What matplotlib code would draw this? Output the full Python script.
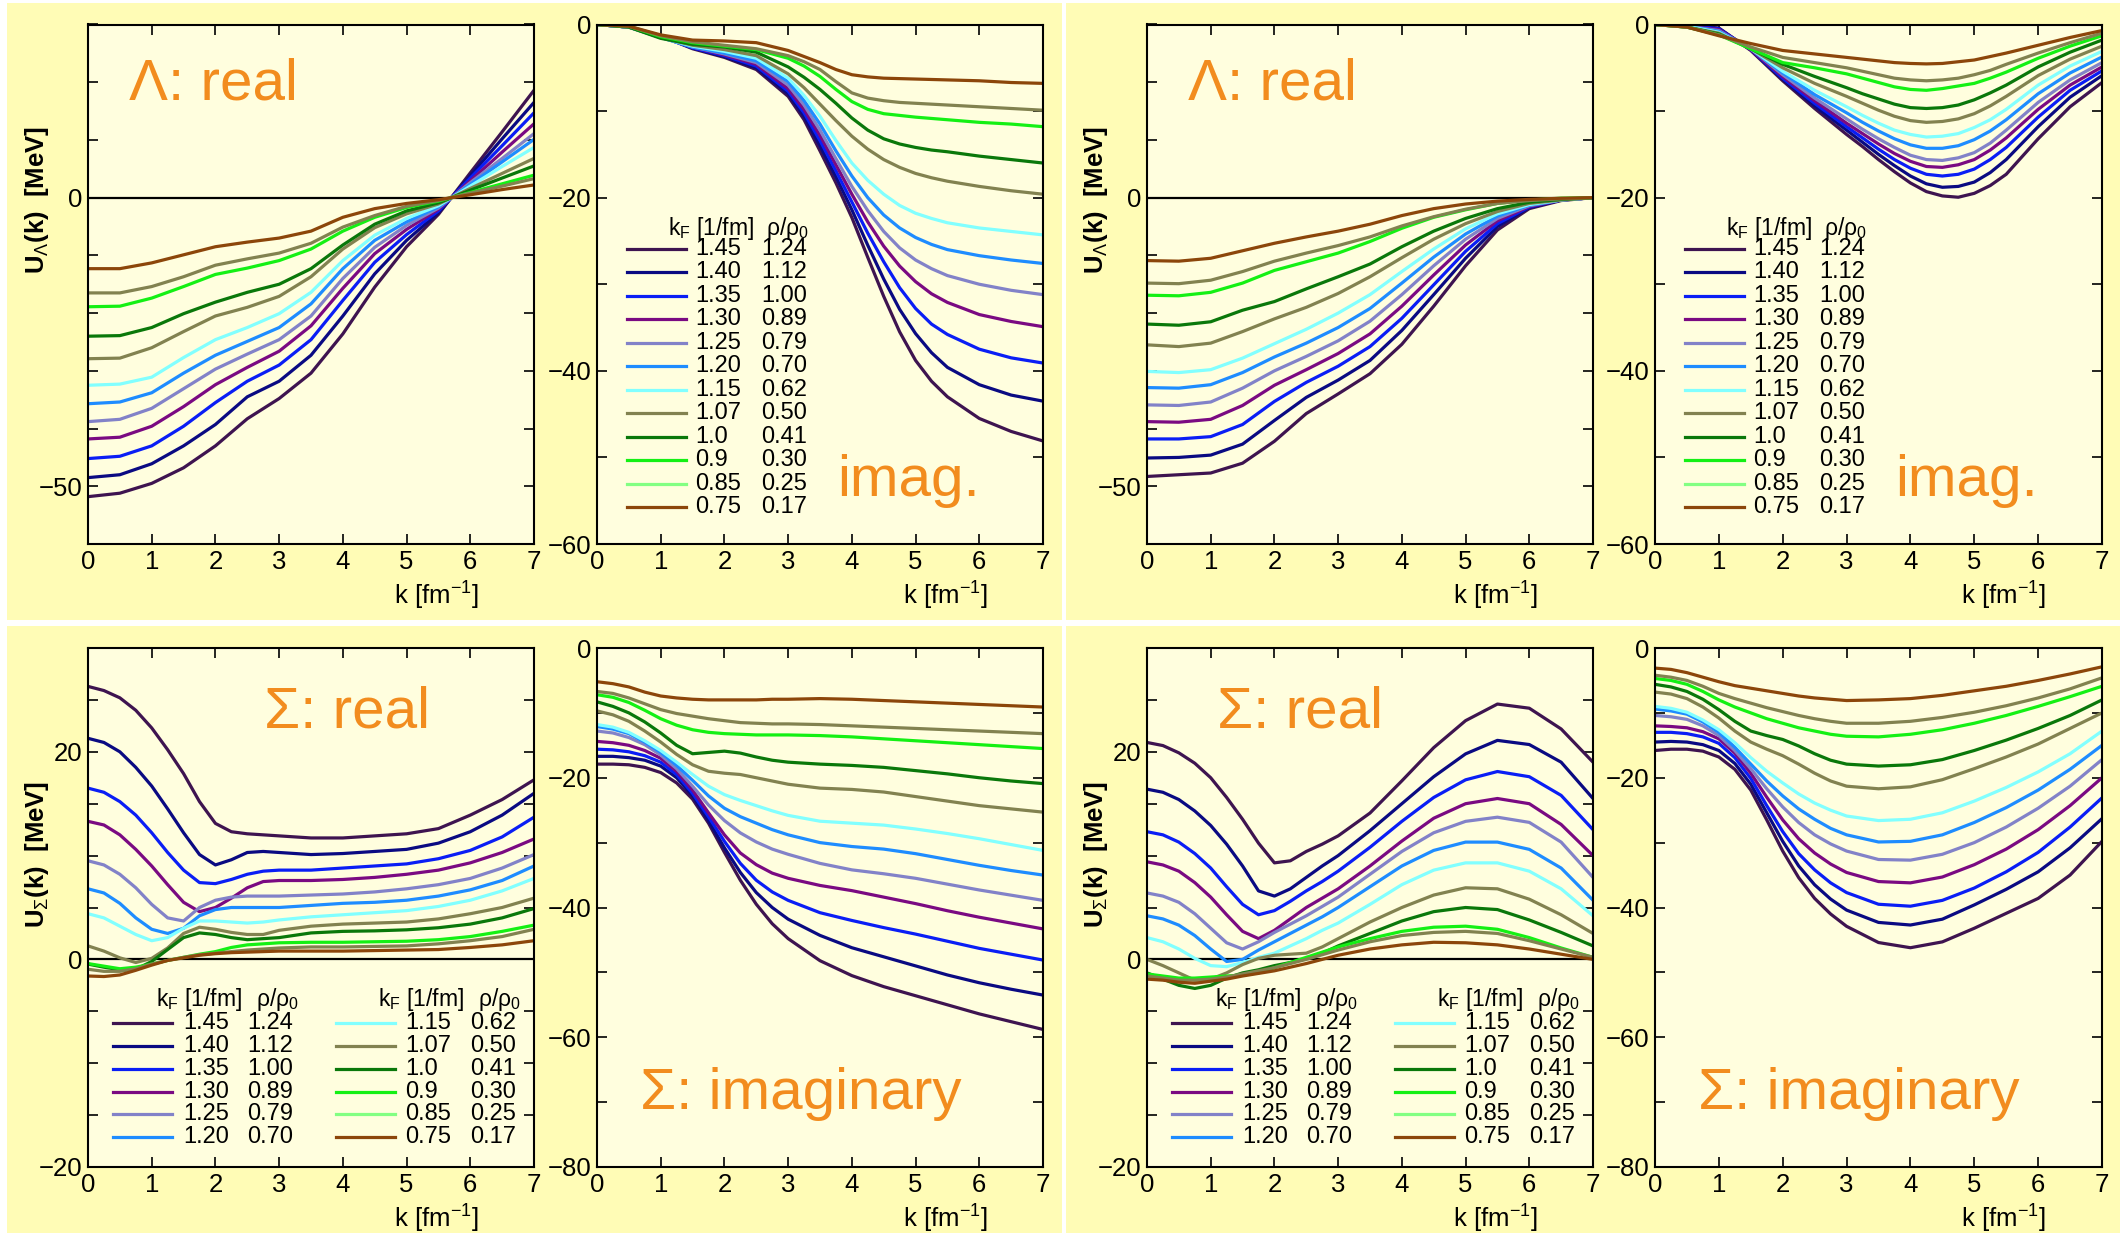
import matplotlib
matplotlib.use('Agg')
import matplotlib.pyplot as plt
from matplotlib.patches import Rectangle
from matplotlib.ticker import MultipleLocator, FuncFormatter

plt.rcParams['font.family'] = ['Liberation Sans', 'DejaVu Sans']
plt.rcParams['mathtext.fontset'] = 'custom'
plt.rcParams['mathtext.rm'] = 'Liberation Sans'
plt.rcParams['mathtext.it'] = 'Liberation Sans:italic'
plt.rcParams['mathtext.bf'] = 'Liberation Sans:bold'
plt.rcParams['axes.unicode_minus'] = True

# ---------------- data ----------------
k_lam = [0, 0.5, 1, 1.5, 2, 2.5, 3, 3.5, 4, 4.5, 5, 5.5, 6, 6.5, 7]
k_lim = [0, 0.5, 1, 1.5, 2, 2.5, 3, 3.25, 3.5, 3.75, 4, 4.25, 4.5, 4.75, 5, 5.25, 5.5, 6, 6.5, 7]
k_sig = [0, 0.25, 0.5, 0.75, 1, 1.25, 1.5, 1.75, 2, 2.25, 2.5, 2.75, 3, 3.5, 4, 4.5, 5, 5.5, 6, 6.5, 7]
kF_labels = ['1.45', '1.40', '1.35', '1.30', '1.25', '1.20', '1.15', '1.07', '1.0', '0.9', '0.85', '0.75']
rho_labels = ['1.24', '1.12', '1.00', '0.89', '0.79', '0.70', '0.62', '0.50', '0.41', '0.30', '0.25', '0.17']
line_colors = ['#3E1450', '#0A0A82', '#0A1EF5', '#7A0A82', '#8282C8', '#1E8CFF', '#82FFFF',
               '#828250', '#0A780A', '#14F014', '#828250', '#8C460A']
legend_colors = ['#3E1450', '#0A0A82', '#0A1EF5', '#7A0A82', '#8282C8', '#1E8CFF', '#82FFFF',
                 '#828250', '#0A780A', '#14F014', '#82FF82', '#8C460A']

# Lambda, left set (top-left quadrant)
lam_re_a = [
    [-51.8, -51.2, -49.5, -46.8, -43.0, -38.3, -34.8, -30.4, -23.6, -15.5, -8.5, -2.9, 4.3, 11.4, 18.6],
    [-48.5, -48.0, -46.1, -43.0, -39.3, -34.5, -31.8, -27.3, -20.5, -13.2, -7.4, -2.6, 3.8, 10.2, 16.5],
    [-45.2, -44.8, -43.0, -39.6, -35.5, -31.8, -29.0, -24.6, -17.8, -11.2, -6.4, -2.3, 3.4, 9.0, 14.7],
    [-41.8, -41.5, -39.6, -36.2, -32.4, -29.4, -26.6, -22.2, -15.7, -9.7, -5.5, -2.0, 2.9, 7.9, 12.8],
    [-38.8, -38.4, -36.5, -33.1, -29.7, -27.1, -24.6, -20.5, -14.0, -8.6, -4.8, -1.8, 2.6, 6.8, 11.1],
    [-35.7, -35.4, -33.8, -30.4, -27.3, -24.9, -22.5, -18.4, -12.3, -7.4, -4.2, -1.6, 2.3, 6.2, 10.1],
    [-32.5, -32.3, -31.1, -27.7, -24.6, -22.5, -20.1, -16.4, -10.9, -6.5, -3.6, -1.4, 2.0, 5.4, 8.7],
    [-27.9, -27.8, -26.0, -23.2, -20.5, -19.0, -17.1, -13.7, -8.9, -5.2, -2.8, -1.1, 1.6, 4.2, 6.8],
    [-24.0, -23.9, -22.5, -20.1, -18.1, -16.4, -15.0, -12.3, -8.2, -4.6, -2.3, -0.9, 1.3, 3.4, 5.5],
    [-18.9, -18.8, -17.4, -15.4, -13.3, -12.2, -10.9, -8.9, -5.8, -3.4, -1.7, -0.6, 0.9, 2.4, 3.9],
    [-16.5, -16.5, -15.4, -13.7, -11.7, -10.6, -9.6, -7.9, -5.1, -3.1, -1.5, -0.5, 0.8, 2.0, 3.3],
    [-12.3, -12.3, -11.3, -9.9, -8.5, -7.7, -7.0, -5.8, -3.4, -1.9, -1.0, -0.35, 0.5, 1.4, 2.2],
]
# on k_lim
lam_im_a = [
    [0, -0.3, -1.3, -2.8, -3.8, -5.2, -8.3, -11.0, -14.6, -18.3, -22.3, -26.9, -31.4, -35.5, -38.8, -41.2, -43.0, -45.5, -47.0, -48.1],
    [0, -0.3, -1.3, -2.7, -3.7, -5.0, -8.0, -10.6, -14.0, -17.6, -21.4, -25.5, -29.4, -32.9, -35.7, -37.9, -39.6, -41.6, -42.8, -43.5],
    [0, -0.3, -1.4, -2.7, -3.6, -4.8, -7.7, -10.2, -13.4, -16.9, -20.5, -24.1, -27.4, -30.4, -32.8, -34.6, -35.8, -37.5, -38.5, -39.1],
    [0, -0.3, -1.4, -2.6, -3.5, -4.6, -7.4, -9.8, -12.8, -16.2, -19.6, -22.8, -25.6, -27.9, -29.7, -31.1, -32.1, -33.5, -34.3, -34.9],
    [0, -0.3, -1.5, -2.6, -3.4, -4.4, -7.0, -9.3, -12.2, -15.5, -18.7, -21.5, -23.9, -25.8, -27.2, -28.2, -29.0, -30.0, -30.7, -31.2],
    [0, -0.3, -1.5, -2.6, -3.3, -4.2, -6.6, -8.8, -11.5, -14.6, -17.5, -20.0, -22.0, -23.5, -24.6, -25.4, -26.0, -26.7, -27.2, -27.6],
    [0, -0.3, -1.5, -2.5, -3.1, -3.9, -6.2, -8.2, -10.6, -13.4, -16.0, -18.0, -19.6, -20.9, -21.8, -22.4, -22.9, -23.5, -23.9, -24.3],
    [0, -0.3, -1.5, -2.4, -2.9, -3.6, -5.7, -7.3, -9.2, -11.1, -12.9, -14.4, -15.6, -16.5, -17.2, -17.7, -18.1, -18.7, -19.2, -19.6],
    [0, -0.3, -1.6, -2.3, -2.6, -3.2, -4.9, -6.1, -7.5, -9.1, -10.8, -12.2, -13.2, -13.8, -14.2, -14.5, -14.7, -15.2, -15.6, -16.0],
    [0, -0.2, -1.4, -2.1, -2.5, -2.9, -3.9, -4.8, -6.0, -7.5, -8.9, -9.8, -10.3, -10.5, -10.7, -10.85, -11.0, -11.3, -11.5, -11.8],
    [0, -0.2, -1.3, -2.0, -2.4, -2.8, -3.6, -4.3, -5.2, -6.6, -7.9, -8.5, -8.8, -9.0, -9.1, -9.2, -9.3, -9.5, -9.7, -9.9],
    [0, -0.2, -1.2, -1.8, -1.9, -2.1, -3.0, -3.7, -4.4, -5.2, -5.8, -6.05, -6.2, -6.25, -6.3, -6.35, -6.4, -6.5, -6.7, -6.8],
]

# Lambda, right set (top-right quadrant)
lam_re_b = [
    [-48.3, -48.0, -47.7, -46.0, -42.2, -37.4, -34.0, -30.5, -25.4, -18.8, -11.8, -5.6, -1.9, -0.5, 0],
    [-45.1, -45.0, -44.6, -42.7, -38.6, -34.6, -31.6, -28.2, -23.0, -16.8, -10.5, -5.0, -1.7, -0.4, 0],
    [-41.8, -41.8, -41.4, -39.3, -35.3, -32.0, -29.2, -25.8, -20.9, -15.1, -9.3, -4.5, -1.6, -0.4, 0],
    [-38.8, -38.9, -38.4, -36.0, -32.5, -29.8, -27.0, -23.6, -18.8, -13.4, -8.2, -4.0, -1.5, -0.4, 0],
    [-35.9, -36.0, -35.4, -33.0, -30.0, -27.5, -24.8, -21.4, -16.8, -11.8, -7.2, -3.6, -1.4, -0.4, 0],
    [-32.9, -33.0, -32.4, -30.3, -27.6, -25.2, -22.5, -19.2, -14.8, -10.3, -6.3, -3.2, -1.3, -0.4, 0],
    [-30.1, -30.3, -29.8, -27.8, -25.3, -22.8, -20.0, -16.8, -12.8, -8.9, -5.4, -2.8, -1.2, -0.4, 0],
    [-25.5, -25.8, -25.2, -23.2, -21.0, -19.0, -16.6, -13.7, -10.4, -7.2, -4.5, -2.4, -1.0, -0.4, 0],
    [-21.9, -22.1, -21.5, -19.5, -18.0, -15.8, -13.7, -11.5, -8.5, -5.8, -3.6, -1.9, -0.8, -0.3, 0],
    [-16.9, -17.0, -16.4, -14.8, -12.6, -11.1, -9.6, -7.6, -5.3, -3.4, -2.1, -1.0, -0.4, -0.1, 0],
    [-14.8, -14.9, -14.3, -12.8, -11.0, -9.6, -8.3, -6.8, -4.9, -3.3, -2.0, -1.0, -0.5, -0.2, 0],
    [-10.9, -11.0, -10.5, -9.2, -7.9, -6.8, -5.8, -4.6, -3.1, -1.9, -1.1, -0.6, -0.3, -0.1, 0],
]
# on k_lim
lam_im_b = [
    [0, -0.1, -0.4, -3.0, -6.5, -9.7, -12.7, -14.1, -15.6, -17.0, -18.3, -19.3, -19.8, -19.95, -19.5, -18.6, -17.3, -13.2, -9.5, -6.7],
    [0, -0.1, -0.5, -2.9, -6.3, -9.4, -12.2, -13.6, -15.0, -16.3, -17.5, -18.4, -18.8, -18.7, -18.2, -17.1, -15.6, -11.8, -8.4, -5.9],
    [0, -0.1, -0.5, -2.9, -6.2, -9.1, -11.8, -13.1, -14.4, -15.6, -16.6, -17.3, -17.5, -17.3, -16.7, -15.6, -14.2, -10.7, -7.6, -5.35],
    [0, -0.2, -0.6, -2.9, -6.0, -8.8, -11.4, -12.6, -13.8, -14.9, -15.8, -16.4, -16.5, -16.2, -15.6, -14.5, -13.1, -9.8, -7.0, -4.9],
    [0, -0.2, -0.7, -2.8, -5.8, -8.5, -10.9, -12.1, -13.2, -14.2, -15.1, -15.6, -15.7, -15.4, -14.8, -13.7, -12.2, -9.0, -6.4, -4.4],
    [0, -0.2, -0.8, -2.8, -5.6, -8.1, -10.2, -11.3, -12.3, -13.2, -13.9, -14.3, -14.3, -14.0, -13.3, -12.3, -11.0, -8.0, -5.6, -3.75],
    [0, -0.2, -0.9, -2.8, -5.4, -7.6, -9.5, -10.5, -11.4, -12.2, -12.7, -13.0, -12.9, -12.6, -11.9, -11.0, -9.8, -7.0, -4.8, -3.1],
    [0, -0.3, -1.0, -2.8, -5.0, -6.8, -8.3, -9.1, -9.9, -10.6, -11.1, -11.3, -11.2, -10.9, -10.3, -9.4, -8.3, -5.9, -4.0, -2.5],
    [0, -0.3, -1.1, -2.8, -4.6, -6.0, -7.3, -8.0, -8.6, -9.2, -9.6, -9.7, -9.6, -9.3, -8.7, -7.9, -7.0, -4.9, -3.2, -1.8],
    [0, -0.3, -1.2, -2.8, -4.4, -5.0, -5.7, -6.2, -6.7, -7.2, -7.5, -7.6, -7.4, -7.1, -6.8, -6.2, -5.5, -3.9, -2.5, -1.3],
    [0, -0.3, -1.2, -2.6, -3.8, -4.4, -5.0, -5.4, -5.8, -6.2, -6.4, -6.5, -6.4, -6.2, -5.8, -5.3, -4.6, -3.3, -2.1, -1.0],
    [0, -0.3, -1.3, -2.2, -3.0, -3.4, -3.8, -4.0, -4.2, -4.4, -4.5, -4.55, -4.5, -4.3, -4.1, -3.7, -3.3, -2.4, -1.5, -0.7],
]

# Sigma, left set (bottom-left quadrant), on k_sig
sig_re_a = [
    [26.3, 25.9, 25.2, 24.0, 22.3, 20.2, 17.9, 15.2, 13.1, 12.3, 12.1, 12.0, 11.9, 11.7, 11.7, 11.9, 12.1, 12.6, 13.9, 15.4, 17.3],
    [21.3, 20.9, 20.0, 18.5, 16.7, 14.5, 12.2, 10.1, 9.1, 9.6, 10.3, 10.4, 10.3, 10.1, 10.2, 10.4, 10.6, 11.2, 12.3, 13.9, 16.0],
    [16.5, 16.1, 15.2, 13.9, 12.2, 10.3, 8.6, 7.4, 7.3, 7.7, 8.2, 8.5, 8.6, 8.6, 8.8, 9.0, 9.2, 9.7, 10.5, 11.8, 13.7],
    [13.3, 12.95, 12.0, 10.6, 9.0, 7.2, 5.5, 4.6, 5.0, 5.9, 6.9, 7.5, 7.6, 7.6, 7.7, 7.9, 8.2, 8.6, 9.3, 10.3, 11.6],
    [9.5, 9.1, 8.2, 6.9, 5.3, 4.0, 3.7, 5.0, 5.7, 6.0, 6.1, 6.1, 6.1, 6.2, 6.3, 6.5, 6.8, 7.2, 7.8, 8.8, 10.1],
    [6.8, 6.4, 5.4, 4.0, 2.9, 2.5, 3.0, 4.2, 4.8, 5.0, 5.0, 5.0, 5.0, 5.2, 5.4, 5.5, 5.7, 6.1, 6.7, 7.6, 9.0],
    [4.4, 4.0, 3.2, 2.4, 1.8, 2.1, 3.0, 3.7, 3.7, 3.6, 3.5, 3.6, 3.8, 4.1, 4.3, 4.5, 4.7, 5.1, 5.7, 6.6, 7.8],
    [1.3, 0.8, 0.15, -0.3, 0.1, 1.1, 2.5, 3.1, 2.9, 2.6, 2.4, 2.4, 2.8, 3.2, 3.4, 3.5, 3.6, 3.9, 4.4, 5.0, 5.9],
    [-0.45, -0.75, -1.0, -0.95, -0.2, 0.95, 2.1, 2.55, 2.4, 2.1, 1.9, 2.0, 2.1, 2.55, 2.7, 2.75, 2.85, 3.05, 3.4, 4.0, 4.9],
    [-0.4, -0.65, -0.9, -0.75, -0.45, -0.1, 0.2, 0.5, 0.75, 1.15, 1.4, 1.5, 1.6, 1.65, 1.65, 1.7, 1.75, 1.9, 2.2, 2.7, 3.3],
    [-0.95, -1.15, -1.15, -0.9, -0.45, -0.1, 0.2, 0.45, 0.6, 0.75, 0.9, 1.0, 1.1, 1.2, 1.2, 1.25, 1.3, 1.5, 1.8, 2.2, 2.9],
    [-1.6, -1.65, -1.5, -1.05, -0.55, -0.1, 0.15, 0.4, 0.55, 0.65, 0.7, 0.75, 0.8, 0.8, 0.8, 0.85, 0.9, 0.95, 1.15, 1.4, 1.8],
]
sig_im_a = [
    [-17.9, -17.9, -18.0, -18.4, -19.2, -20.8, -23.3, -27.0, -31.5, -35.8, -39.5, -42.5, -44.8, -48.2, -50.5, -52.2, -53.6, -55.0, -56.4, -57.6, -58.8],
    [-16.7, -16.7, -16.9, -17.3, -18.2, -20.0, -22.8, -26.6, -30.8, -34.6, -37.7, -40.0, -41.8, -44.3, -46.2, -47.6, -49.0, -50.4, -51.6, -52.6, -53.5],
    [-15.6, -15.7, -16.0, -16.6, -17.6, -19.5, -22.4, -26.0, -29.8, -33.2, -35.8, -37.6, -38.9, -40.8, -42.0, -43.1, -44.1, -45.2, -46.3, -47.2, -48.1],
    [-14.4, -14.6, -15.0, -15.8, -17.0, -19.0, -21.9, -25.4, -28.8, -31.6, -33.4, -34.7, -35.5, -36.6, -37.4, -38.4, -39.4, -40.5, -41.5, -42.4, -43.3],
    [-12.8, -13.1, -13.8, -14.9, -16.5, -18.6, -21.3, -24.2, -26.6, -28.5, -29.9, -31.0, -31.8, -33.2, -34.2, -34.8, -35.5, -36.4, -37.3, -38.1, -38.9],
    [-12.1, -12.5, -13.2, -14.5, -16.1, -18.1, -20.4, -22.8, -24.7, -26.0, -27.0, -28.0, -28.8, -30.0, -30.6, -31.0, -31.7, -32.6, -33.5, -34.3, -35.0],
    [-11.8, -12.2, -13.0, -14.3, -15.8, -17.6, -19.5, -21.3, -22.6, -23.5, -24.3, -25.1, -25.8, -26.7, -27.0, -27.3, -27.9, -28.6, -29.4, -30.3, -31.2],
    [-9.7, -10.3, -11.3, -12.8, -14.5, -16.4, -18.0, -19.0, -19.3, -19.5, -20.0, -20.5, -21.0, -21.6, -21.8, -22.2, -22.9, -23.6, -24.3, -24.8, -25.3],
    [-8.3, -9.0, -10.0, -11.4, -13.1, -15.0, -16.3, -16.1, -15.9, -16.2, -16.8, -17.3, -17.6, -17.9, -18.1, -18.4, -18.9, -19.4, -20.0, -20.5, -20.9],
    [-7.2, -7.6, -8.4, -9.6, -10.9, -11.9, -12.6, -13.0, -13.2, -13.3, -13.4, -13.4, -13.4, -13.5, -13.7, -14.0, -14.3, -14.6, -14.9, -15.2, -15.5],
    [-6.7, -7.0, -7.7, -8.6, -9.5, -10.1, -10.5, -10.9, -11.2, -11.5, -11.6, -11.7, -11.7, -11.8, -12.0, -12.2, -12.4, -12.6, -12.8, -13.0, -13.2],
    [-5.2, -5.5, -6.0, -6.8, -7.4, -7.7, -7.9, -8.0, -8.0, -8.0, -8.0, -7.9, -7.9, -7.8, -7.9, -8.1, -8.3, -8.5, -8.7, -8.9, -9.1],
]

# Sigma, right set (bottom-right quadrant), on k_sig
sig_re_b = [
    [20.9, 20.6, 19.9, 18.9, 17.5, 15.6, 13.5, 11.2, 9.3, 9.5, 10.4, 11.1, 11.9, 14.1, 17.2, 20.4, 23.0, 24.6, 24.2, 22.2, 19.0],
    [16.4, 16.1, 15.4, 14.3, 12.9, 11.1, 9.0, 6.6, 6.1, 6.8, 7.9, 9.0, 10.0, 12.4, 15.0, 17.6, 19.8, 21.1, 20.7, 19.0, 15.5],
    [12.3, 12.0, 11.3, 10.2, 8.8, 7.0, 5.3, 4.3, 4.7, 5.6, 6.6, 7.5, 8.5, 10.8, 13.3, 15.6, 17.3, 18.1, 17.6, 15.8, 12.5],
    [9.4, 9.1, 8.5, 7.4, 6.0, 4.3, 2.7, 2.0, 2.8, 3.9, 5.0, 5.9, 6.8, 9.0, 11.4, 13.6, 15.0, 15.5, 15.0, 13.0, 10.0],
    [6.4, 6.1, 5.5, 4.4, 3.0, 1.6, 1.0, 1.7, 2.6, 3.4, 4.2, 5.1, 6.0, 8.2, 10.4, 12.2, 13.3, 13.7, 13.2, 11.3, 7.9],
    [4.2, 3.9, 3.3, 2.3, 1.0, -0.2, 0.0, 0.9, 1.7, 2.5, 3.3, 4.1, 5.0, 7.0, 9.0, 10.5, 11.3, 11.3, 10.6, 8.8, 5.7],
    [2.1, 1.7, 1.0, 0.1, -0.6, -0.7, -0.3, 0.2, 0.6, 1.3, 2.0, 2.8, 3.5, 5.3, 7.2, 8.6, 9.3, 9.3, 8.5, 6.8, 4.2],
    [0.0, -0.6, -1.3, -2.0, -1.9, -1.3, -0.5, 0.1, 0.4, 0.5, 0.6, 1.2, 2.0, 3.6, 5.0, 6.2, 6.9, 6.8, 5.8, 4.3, 2.5],
    [-1.3, -1.9, -2.5, -2.8, -2.5, -1.8, -1.3, -1.0, -0.6, -0.3, 0.1, 0.6, 1.3, 2.5, 3.7, 4.6, 5.0, 4.8, 3.8, 2.6, 1.3],
    [-1.4, -1.6, -1.8, -1.8, -1.7, -1.6, -1.5, -1.3, -0.8, -0.3, 0.2, 0.7, 1.2, 2.0, 2.7, 3.1, 3.2, 2.9, 2.1, 1.1, 0.2],
    [-1.6, -1.8, -2.0, -2.0, -1.9, -1.7, -1.4, -1.1, -0.8, -0.4, 0.0, 0.45, 0.9, 1.7, 2.3, 2.6, 2.7, 2.5, 1.8, 1.0, 0.2],
    [-1.9, -2.0, -2.2, -2.3, -2.1, -1.9, -1.6, -1.35, -1.1, -0.75, -0.4, 0.0, 0.4, 1.0, 1.4, 1.65, 1.6, 1.4, 1.0, 0.5, 0.0],
]
sig_im_b = [
    [-15.8, -15.6, -15.6, -15.9, -16.8, -18.7, -21.9, -26.5, -31.3, -35.4, -38.6, -41.0, -42.9, -45.4, -46.2, -45.3, -43.2, -40.9, -38.6, -35.0, -29.8],
    [-14.5, -14.4, -14.5, -14.9, -15.8, -17.8, -21.0, -25.4, -29.8, -33.6, -36.5, -38.7, -40.4, -42.3, -42.7, -41.8, -39.6, -37.2, -34.5, -30.8, -26.3],
    [-13.0, -13.0, -13.2, -13.7, -14.7, -16.9, -20.1, -24.3, -28.3, -31.7, -34.2, -36.2, -37.7, -39.5, -39.8, -38.9, -37.0, -34.5, -31.5, -27.6, -23.1],
    [-12.0, -12.1, -12.3, -12.9, -14.0, -16.2, -19.3, -23.0, -26.5, -29.4, -31.6, -33.3, -34.6, -36.0, -36.2, -35.3, -33.4, -31.0, -28.0, -24.3, -20.0],
    [-10.4, -10.6, -11.0, -12.0, -13.5, -15.8, -18.6, -21.7, -24.5, -26.9, -28.8, -30.2, -31.3, -32.6, -32.7, -31.8, -30.0, -27.6, -24.7, -21.3, -17.2],
    [-9.4, -9.7, -10.2, -11.4, -13.0, -15.3, -17.9, -20.5, -22.8, -24.8, -26.4, -27.8, -28.8, -29.9, -29.8, -28.8, -26.9, -24.6, -21.9, -18.7, -15.0],
    [-9.0, -9.3, -9.9, -11.1, -12.6, -14.6, -16.9, -19.0, -20.8, -22.5, -23.9, -25.0, -25.9, -26.6, -26.4, -25.4, -23.6, -21.5, -19.1, -16.3, -12.8],
    [-6.8, -7.1, -7.8, -9.1, -10.8, -12.8, -14.5, -15.6, -16.6, -17.9, -19.3, -20.5, -21.3, -21.7, -21.4, -20.3, -18.6, -16.8, -14.8, -12.4, -10.0],
    [-5.6, -6.0, -6.7, -7.9, -9.5, -11.3, -12.8, -13.5, -14.1, -15.1, -16.3, -17.3, -17.9, -18.2, -18.0, -17.2, -15.8, -14.2, -12.4, -10.4, -8.0],
    [-4.7, -5.0, -5.6, -6.7, -8.0, -9.1, -10.0, -10.9, -11.6, -12.3, -12.8, -13.3, -13.6, -13.7, -13.3, -12.6, -11.6, -10.4, -9.0, -7.5, -5.9],
    [-4.2, -4.5, -5.0, -5.9, -7.0, -7.8, -8.5, -9.2, -9.8, -10.4, -10.9, -11.3, -11.6, -11.6, -11.3, -10.7, -9.9, -8.9, -7.7, -6.3, -4.6],
    [-3.1, -3.3, -3.8, -4.5, -5.2, -5.8, -6.2, -6.6, -7.0, -7.4, -7.7, -7.9, -8.1, -8.0, -7.8, -7.3, -6.6, -5.9, -5.0, -4.0, -2.9],
]

# ---------------- layout ----------------
W, H = 2125, 1236
fig = plt.figure(figsize=(W / 100, H / 100), dpi=100)
fig.patch.set_facecolor('white')

OUTER = '#FFFCB6'
INNER = '#FFFEDE'
ORANGE = '#F28C1E'

quads = [(7, 3, 1062, 620), (1066, 3, 2120, 620), (7, 626, 1062, 1233), (1066, 626, 2120, 1233)]
for (x0, y0, x1, y1) in quads:
    fig.patches.append(Rectangle((x0 / W, 1 - y1 / H), (x1 - x0) / W, (y1 - y0) / H,
                                 transform=fig.transFigure, facecolor=OUTER, edgecolor='none', zorder=-10))


def make_ax(x0, y0, x1, y1):
    ax = fig.add_axes([x0 / W, 1 - y1 / H, (x1 - x0) / W, (y1 - y0) / H])
    ax.set_zorder(5)
    return ax


cols = [(88, 534), (597, 1043), (1147, 1593), (1655, 2102)]
rows = [(24.5, 544), (648, 1167)]


def fmt_factory(labels):
    def f(v, pos):
        r = int(round(v))
        if abs(v - r) < 1e-6 and r in labels:
            return ('\u2212' + str(-r)) if r < 0 else str(r)
        return ''
    return FuncFormatter(f)


def style(ax, ylim, ystep, ylabels):
    ax.set_facecolor(INNER)
    ax.set_xlim(0, 7)
    ax.set_ylim(*ylim)
    ax.xaxis.set_major_locator(MultipleLocator(1))
    ax.yaxis.set_major_locator(MultipleLocator(ystep))
    ax.yaxis.set_major_formatter(fmt_factory(ylabels))
    ax.tick_params(direction='in', top=True, right=True, length=7, width=1.2,
                   labelsize=18.5, pad=4)
    for s in ax.spines.values():
        s.set_linewidth(1.5)
    ax.set_xlabel('k [fm$^{-1}$]', fontsize=18.5)
    ax.xaxis.set_label_coords(0.78, -0.10)
    ax.xaxis.label.set_va('center')


def draw(ax, kk, data, zero=False):
    if zero:
        ax.axhline(0, color='black', lw=1.6, zorder=1)
    for vals, c in zip(data, line_colors):
        ax.plot(kk, vals, color=c, lw=2.3, zorder=2, solid_capstyle='round', solid_joinstyle='round')


LFS = 17


def legend_single(ax):
    y0, dy = 0.568, 0.0452
    ax.text(0.159, 0.608, 'k$_\\mathrm{F}$ [1/fm]', transform=ax.transAxes, fontsize=LFS - 0.5, va='center', ha='left')
    ax.text(0.379, 0.608, '\u03c1/\u03c1$_0$', transform=ax.transAxes, fontsize=LFS - 0.5, va='center', ha='left')
    for i in range(12):
        y = y0 - i * dy
        ax.plot([0.067, 0.2], [y, y], transform=ax.transAxes, color=legend_colors[i], lw=2.3)
        ax.text(0.22, y, kF_labels[i], transform=ax.transAxes, fontsize=LFS, va='center', ha='left')
        ax.text(0.368, y, rho_labels[i], transform=ax.transAxes, fontsize=LFS, va='center', ha='left')


def legend_double(ax):
    y0, dy = 0.277, 0.0439
    colspec = [(0.056, 0.188, 0.213, 0.357, 0.152, 0.377, 0),
               (0.556, 0.688, 0.711, 0.857, 0.650, 0.874, 6)]
    for (lx0, lx1, n1, n2, hk, hr, off) in colspec:
        ax.text(hk, 0.322, 'k$_\\mathrm{F}$ [1/fm]', transform=ax.transAxes, fontsize=LFS - 0.5, va='center', ha='left')
        ax.text(hr, 0.322, '\u03c1/\u03c1$_0$', transform=ax.transAxes, fontsize=LFS - 0.5, va='center', ha='left')
        for j in range(6):
            i = off + j
            y = y0 - j * dy
            ax.plot([lx0, lx1], [y, y], transform=ax.transAxes, color=legend_colors[i], lw=2.3)
            ax.text(n1, y, kF_labels[i], transform=ax.transAxes, fontsize=LFS, va='center', ha='left')
            ax.text(n2, y, rho_labels[i], transform=ax.transAxes, fontsize=LFS, va='center', ha='left')


def big(ax, x, y, s):
    ax.text(x, y, s, transform=ax.transAxes, fontsize=42, color=ORANGE, va='center', ha='left')


panels = [
    (0, 0, k_lam, lam_re_a, True, (-60, 30), 10, [0, -50]),
    (0, 1, k_lim, lam_im_a, False, (-60, 0), 10, [0, -20, -40, -60]),
    (0, 2, k_lam, lam_re_b, True, (-60, 30), 10, [0, -50]),
    (0, 3, k_lim, lam_im_b, False, (-60, 0), 10, [0, -20, -40, -60]),
    (1, 0, k_sig, sig_re_a, True, (-20, 30), 5, [-20, 0, 20]),
    (1, 1, k_sig, sig_im_a, False, (-80, 0), 10, [0, -20, -40, -60, -80]),
    (1, 2, k_sig, sig_re_b, True, (-20, 30), 5, [-20, 0, 20]),
    (1, 3, k_sig, sig_im_b, False, (-80, 0), 10, [0, -20, -40, -60, -80]),
]

axes = {}
for (r, c, kk, data, real, ylim, ystep, labels) in panels:
    x0, x1 = cols[c]
    y0, y1 = rows[r]
    ax = make_ax(x0, y0, x1, y1)
    style(ax, ylim, ystep, labels)
    draw(ax, kk, data, zero=real)
    axes[(r, c)] = ax

for c in (0, 2):
    a = axes[(0, c)]
    a.set_ylabel('U$_\\Lambda$(k)  [MeV]', fontsize=18.5, fontweight='bold', va='center')
    a.yaxis.set_label_coords(-0.114, 0.662)
    b = axes[(1, c)]
    b.set_ylabel('U$_\\Sigma$(k)  [MeV]', fontsize=18.5, fontweight='bold', va='center')
    b.yaxis.set_label_coords(-0.114, 0.603)

legend_single(axes[(0, 1)])
legend_single(axes[(0, 3)])
legend_double(axes[(1, 0)])
legend_double(axes[(1, 2)])

big(axes[(0, 0)], 0.092, 0.885, '\u039b: real')
big(axes[(0, 2)], 0.092, 0.885, '\u039b: real')
big(axes[(0, 1)], 0.538, 0.121, 'imag.')
big(axes[(0, 3)], 0.538, 0.121, 'imag.')
big(axes[(1, 0)], 0.395, 0.875, '\u03a3: real')
big(axes[(1, 2)], 0.157, 0.875, '\u03a3: real')
big(axes[(1, 1)], 0.096, 0.141, '\u03a3: imaginary')
big(axes[(1, 3)], 0.096, 0.141, '\u03a3: imaginary')

fig.savefig('out.png', dpi=100, facecolor='white')
